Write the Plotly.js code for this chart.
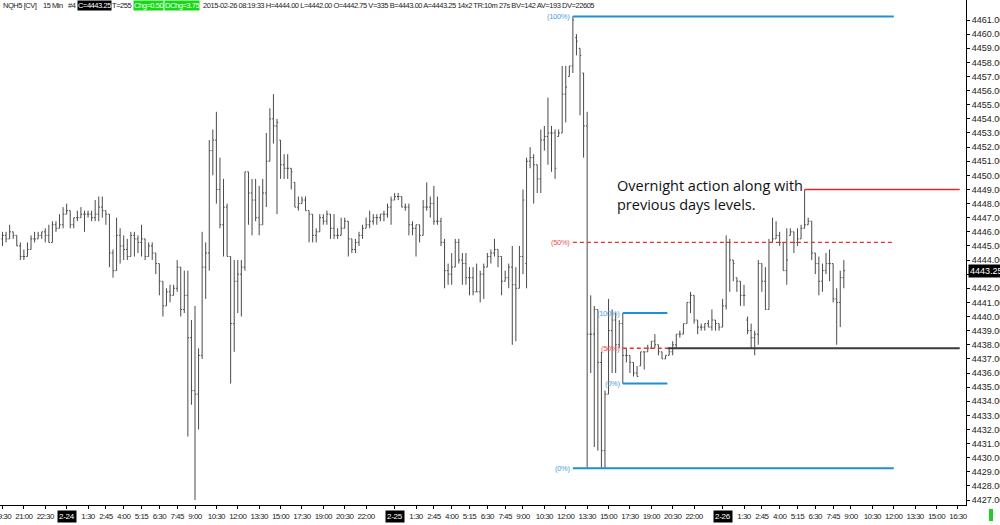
<!DOCTYPE html>
<html>
<head>
<meta charset="utf-8">
<script src="https://cdn.plot.ly/plotly-3.0.1.min.js"></script>
<style>html,body{margin:0;padding:0;background:#fff;}#chart{width:1000px;height:525px;}</style>
</head>
<body>
<div id="chart"></div>
<script>
// ---------- DATA (15-min bars, NQH5) ----------
const opens = [
4445.5,4445.75,4445.5,4446.0,4445.75,4445.0,4444.25,4444.25,4444.75,4445.5,
4445.5,4445.75,4446.0,4445.75,4445.25,4446.5,4446.25,4446.5,4447.25,4447.5,
4446.5,4447.0,4447.0,4447.25,4447.25,4447.25,4447.0,4447.25,4447.75,4447.5,
4447.25,4444.5,4443.25,4445.75,4445.0,4444.75,4444.25,4445.75,4445.5,4445.25,
4445.5,4444.25,4445.0,4444.5,4443.75,4442.5,4440.75,4441.75,4441.5,4442.0,
4443.5,4440.5,4441.5,4438.5,4434.75,4434.5,4437.25,4443.5,4444.5,4451.75,
4452.5,4449.0,4446.5,4447.75,4444.25,4439.5,4442.5,4443.0,4443.5,4450.25,
4448.75,4448.25,4447.0,4446.5,4448.75,4451.0,4454.0,4453.5,4452.5,4450.75,
4450.5,4450.5,4449.5,4447.75,4448.0,4448.25,4447.5,4447.25,4445.75,4446.0,
4447.0,4446.75,4447.25,4446.25,4445.75,4445.75,4446.25,4446.75,4445.5,4444.75,
4445.25,4445.75,4446.25,4446.5,4446.75,4447.0,4447.0,4447.25,4447.25,4447.75,
4448.25,4448.5,4448.5,4447.75,4447.75,4446.5,4446.25,4446.5,4445.75,4447.75,
4447.75,4448.0,4446.75,4446.75,4445.25,4443.25,4443.0,4443.5,4445.25,4444.0,
4443.75,4442.75,4442.75,4441.75,4441.75,4443.0,4443.5,4444.25,4444.5,4444.75,
4444.25,4442.5,4442.75,4443.5,4442.25,4442.0,4444.25,4443.75,4451.0,4451.25,
4450.75,4449.75,4452.5,4452.75,4453.0,4453.0,4452.75,4453.0,4455.75,4457.0,
4457.75,4459.75,4459.0,4457.25,4453.5,4438.75,4438.75,4440.5,4436.75,4430.5,
4434.5,4439.0,4439.75,4438.0,4439.5,4437.25,4437.25,4436.75,4436.0,4436.5,
4437.5,4437.5,4437.75,4438.25,4438.0,4437.5,4437.0,4437.25,4437.5,4438.0,
4438.75,4438.75,4439.5,4441.0,4441.5,4439.75,4439.25,4439.25,4439.5,4439.25,
4439.75,4439.5,4439.25,4440.75,4445.25,4444.0,4442.75,4442.5,4441.5,4439.75,
4439.0,4438.5,4438.75,4443.75,4442.5,4440.5,4445.25,4445.5,4445.75,4445.25,
4443.25,4445.75,4446.0,4445.25,4445.5,4446.25,4446.5,4446.75,4444.5,4443.75,
4442.5,4443.25,4443.75,4443.75,4441.25,4441.0,4442.75];
const highs = [
4446.0,4446.0,4446.5,4446.0,4445.75,4445.25,4444.75,4445.25,4445.75,4446.0,
4446.0,4446.0,4446.25,4446.5,4446.75,4446.75,4447.25,4447.75,4448.0,4447.5,
4447.0,4447.5,4447.75,4447.5,4447.5,4447.5,4448.25,4448.5,4448.5,4447.5,
4447.25,4444.75,4447.0,4446.25,4445.75,4445.5,4446.0,4446.0,4445.75,4446.5,
4445.5,4445.25,4445.25,4444.5,4443.75,4442.5,4442.0,4442.25,4442.25,4444.0,
4443.5,4443.25,4443.25,4439.75,4440.75,4437.75,4446.0,4445.25,4452.5,4453.25,
4454.5,4451.25,4449.75,4448.0,4444.25,4444.0,4444.0,4444.0,4450.25,4450.25,
4449.75,4449.75,4449.25,4449.75,4453.0,4454.75,4455.75,4454.0,4452.5,4451.5,
4451.5,4450.5,4449.5,4448.5,4448.5,4448.5,4447.5,4447.25,4446.25,4447.25,
4447.25,4447.5,4447.25,4447.25,4446.25,4447.0,4447.0,4446.75,4445.5,4445.5,
4446.0,4446.5,4447.0,4447.5,4447.25,4447.25,4447.25,4447.5,4448.0,4448.5,
4448.75,4448.75,4448.5,4448.0,4448.0,4446.75,4446.5,4446.5,4448.25,4449.5,
4448.5,4449.25,4448.5,4447.0,4445.5,4443.75,4444.5,4445.5,4445.5,4444.5,
4444.5,4443.5,4443.5,4443.75,4443.25,4443.75,4444.5,4444.75,4445.5,4444.75,
4444.25,4443.25,4443.75,4445.0,4443.5,4445.0,4449.0,4451.25,4452.0,4451.5,
4450.75,4453.25,4453.5,4455.5,4453.5,4453.25,4453.25,4457.75,4457.75,4457.75,
4461.25,4460.0,4459.0,4457.25,4454.5,4441.5,4440.75,4440.5,4437.5,4434.75,
4441.25,4440.5,4440.25,4439.75,4440.25,4437.75,4437.25,4436.75,4436.5,4437.5,
4437.5,4438.0,4438.25,4438.75,4438.0,4437.5,4437.25,4437.75,4438.25,4438.75,
4439.0,4439.5,4441.0,4441.75,4441.5,4439.75,4439.5,4439.5,4439.75,4440.5,
4439.75,4439.5,4441.25,4445.75,4445.5,4444.0,4442.75,4442.5,4442.25,4440.0,
4439.5,4439.0,4444.0,4443.75,4443.5,4445.5,4447.0,4446.75,4446.0,4445.25,
4446.25,4446.25,4446.0,4446.25,4446.5,4449.0,4447.0,4446.75,4444.5,4444.25,
4443.75,4444.5,4444.75,4443.75,4442.0,4443.25,4444.0];
const lows = [
4445.0,4445.25,4445.5,4445.5,4445.0,4444.0,4444.0,4444.25,4444.75,4445.25,
4445.5,4445.5,4445.25,4445.25,4445.25,4446.0,4446.25,4446.25,4447.25,4446.25,
4446.25,4446.75,4447.0,4446.0,4447.0,4446.75,4446.75,4446.75,4447.0,4446.5,
4443.5,4442.75,4443.25,4443.75,4444.0,4444.0,4444.25,4444.25,4444.5,4444.25,
4444.0,4444.25,4444.0,4443.0,4441.5,4440.0,4440.75,4441.0,4441.5,4441.75,
4440.0,4440.25,4431.5,4433.75,4427.0,4432.0,4437.0,4441.25,4443.25,4450.0,
4448.0,4446.25,4444.25,4444.25,4435.25,4437.5,4440.25,4440.0,4443.25,4446.5,
4445.75,4446.75,4445.75,4446.5,4447.75,4451.0,4452.25,4447.25,4449.75,4449.75,
4449.75,4449.0,4447.75,4447.5,4448.0,4447.5,4445.25,4445.25,4445.25,4446.0,
4446.5,4446.5,4445.5,4445.5,4445.5,4445.75,4446.25,4444.25,4444.5,4444.5,
4445.0,4445.5,4446.25,4446.25,4446.5,4446.5,4446.75,4446.75,4447.0,4446.5,
4448.25,4448.25,4447.75,4447.5,4445.75,4445.75,4444.25,4445.25,4445.75,4447.5,
4447.0,4446.5,4446.5,4445.0,4442.0,4442.25,4442.25,4443.5,4443.75,4442.25,
4442.25,4441.5,4441.5,4441.75,4441.0,4441.25,4443.5,4443.75,4444.25,4443.5,
4441.5,4442.5,4442.0,4438.0,4438.25,4442.0,4443.0,4442.0,4450.5,4448.0,
4448.75,4448.75,4451.75,4450.75,4450.25,4449.75,4452.75,4453.0,4453.75,4457.0,
4457.25,4458.5,4454.25,4451.25,4429.25,4436.0,4430.75,4430.5,4429.25,4429.25,
4434.5,4436.0,4436.0,4437.75,4435.25,4436.75,4436.0,4435.75,4435.75,4436.5,
4436.25,4437.5,4437.75,4437.75,4437.25,4437.0,4437.0,4437.25,4437.25,4437.75,
4438.5,4438.75,4439.5,4440.25,4439.5,4438.75,4439.0,4439.0,4439.25,4439.0,
4439.0,4439.0,4439.25,4440.5,4441.75,4442.5,4441.75,4440.75,4440.75,4438.75,
4437.75,4437.25,4438.0,4441.75,4440.5,4440.5,4445.25,4445.5,4445.0,4443.25,
4442.25,4445.75,4444.5,4445.0,4445.5,4446.25,4446.5,4444.0,4443.0,4441.5,
4441.75,4443.0,4442.5,4441.0,4438.0,4439.25,4442.0];
const closes = [
4445.75,4445.5,4446.0,4445.75,4445.0,4444.25,4444.25,4444.75,4445.5,4445.5,
4445.75,4446.0,4445.75,4445.25,4446.5,4446.25,4446.5,4447.25,4447.5,4446.5,
4447.0,4447.0,4447.25,4447.25,4447.25,4447.0,4447.25,4447.75,4447.5,4447.25,
4444.5,4443.25,4445.75,4445.0,4444.75,4444.25,4445.75,4445.5,4445.25,4445.5,
4444.25,4445.0,4444.5,4443.75,4442.5,4440.75,4441.75,4441.5,4442.0,4443.5,
4440.5,4441.5,4438.5,4434.75,4434.5,4437.25,4443.5,4444.5,4451.75,4452.5,
4449.0,4446.5,4447.75,4444.25,4439.5,4442.5,4443.0,4443.5,4450.25,4448.75,
4448.25,4447.0,4446.5,4448.75,4451.0,4454.0,4453.5,4453.75,4450.75,4450.5,
4450.5,4450.25,4447.75,4448.0,4448.25,4447.5,4447.25,4445.75,4446.0,4447.0,
4446.75,4447.25,4446.25,4445.75,4445.75,4446.25,4446.75,4445.5,4444.75,4445.25,
4445.75,4446.25,4446.5,4446.75,4447.0,4447.0,4447.25,4447.25,4447.75,4448.25,
4448.5,4448.5,4447.75,4447.75,4446.5,4446.25,4446.5,4445.75,4447.75,4447.75,
4448.0,4446.75,4446.75,4445.25,4443.25,4443.0,4443.5,4445.25,4444.0,4443.75,
4442.75,4442.75,4441.75,4441.75,4443.0,4443.5,4444.25,4444.5,4444.75,4444.25,
4442.5,4442.75,4443.5,4442.25,4442.0,4444.25,4448.25,4451.0,4451.25,4450.75,
4449.75,4452.5,4452.75,4453.0,4453.0,4450.5,4453.0,4455.75,4456.25,4457.75,
4461.0,4459.5,4458.5,4453.5,4438.75,4438.75,4440.5,4436.75,4430.5,4434.5,
4439.0,4439.75,4438.0,4439.5,4437.25,4437.25,4436.75,4436.0,4435.75,4437.5,
4437.5,4437.75,4438.25,4438.0,4437.5,4437.0,4437.25,4437.5,4438.0,4438.75,
4438.75,4439.5,4441.0,4441.5,4439.75,4439.25,4439.25,4439.5,4439.25,4439.75,
4439.5,4439.25,4440.75,4445.25,4444.0,4443.75,4442.5,4441.5,4441.5,4439.0,
4438.5,4438.75,4443.75,4442.5,4440.5,4445.25,4445.5,4445.75,4445.25,4443.25,
4444.0,4446.0,4445.25,4445.5,4446.25,4446.5,4446.75,4444.5,4443.75,4442.5,
4443.25,4443.75,4443.75,4441.25,4441.0,4442.75,4443.25];

// x-axis ticks: bar index and label
const tickIdx = [0,6,12,18,24,29,34,39,44,49,54,60,66,72,78,84,90,96,102,
  110,116,121,126,131,136,141,146,152,158,164,170,176,182,188,194,
  202,208,213,218,223,228,233,238,244,250,256,262,268];
const tickLabels = ['19:30','21:00','22:30','2-24','1:30','2:45','4:00','5:15','6:30','7:45','9:00','10:30','12:00','13:30','15:00','17:30','19:00','20:30','22:00',
  '2-25','1:30','2:45','4:00','5:15','6:30','7:45','9:00','10:30','12:00','13:30','15:00','17:30','19:00','20:30','22:00',
  '2-26','1:30','2:45','4:00','5:15','6:30','7:45','9:00','10:30','12:00','13:30','15:00','16:30'];

// drawn levels
const bigFibLevels = [4461.25, 4445.25, 4429.25];      // 100%, 50%, 0%
const bigFibNames  = ['(100%)', '(50%)', '(0%)'];
const bigFibSpan   = [160, 250];
const smallFibLevels = [4440.25, 4437.75, 4435.25];
const smallFibNames  = ['(100%)', '(50%)', '(0%)'];
const smallFibSpan   = [174, 186.5];
const prevLevel = 4437.75;   const prevSpan = [186.5, 268.5];
const highLevel = 4449.0;    const highSpan = [225, 268.5];
const lastPrice = 4443.25;

const headerParts = ['NQH5 [CV]', '15 Min', '#4', 'C=4443.25', 'T=255', 'Chg=0.50', 'DChg=3.75',
  '2015-02-26 08:19:33 H=4444.00 L=4442.00 O=4442.75 V=335 B=4443.00 A=4443.25 14x2 TR:10m 27s BV=142 AV=193 DV=22605'];
const noteText = 'Overnight action along with<br>previous days levels.';

// ---------- BUILD ----------
const xIdx = closes.map((_, i) => i);
const PW = 966, PH = 505;  // plot area in px
const px = v => v / PW;
const py = v => (PH - v) / PH;
const tight = (t, ls) => '<span style="letter-spacing:' + ls + 'px">' + t + '</span>';

const smallFont = 'Liberation Sans, Arial, sans-serif';

const trace = {
  type: 'ohlc', x: xIdx, open: opens, high: highs, low: lows, close: closes,
  increasing: {line: {color: '#4a4a4a', width: 1}},
  decreasing: {line: {color: '#4a4a4a', width: 1}},
  tickwidth: 0.35, hoverinfo: 'skip'
};

const shapes = [];
const annotations = [];
const blue = '#1f8fd6', red = '#e8332c';
function addFib(levels, names, span) {
  levels.forEach((lv, k) => {
    const isMid = k === 1;
    shapes.push({type: 'line', xref: 'x', yref: 'y', x0: span[0], x1: span[1], y0: lv, y1: lv,
      line: {color: isMid ? red : blue, width: isMid ? 1.4 : 2, dash: isMid ? '4px,3px' : 'solid'}});
    annotations.push({xref: 'x', yref: 'y', x: span[0], y: lv, text: tight(names[k], -0.3), showarrow: false,
      xanchor: 'right', yanchor: 'middle', xshift: -1,
      font: {family: smallFont, size: 7.5, color: isMid ? '#e8554d' : '#4aa0dc'}});
  });
}
addFib(bigFibLevels, bigFibNames, bigFibSpan);
addFib(smallFibLevels, smallFibNames, smallFibSpan);
shapes.push({type: 'line', xref: 'x', yref: 'y', x0: prevSpan[0], x1: prevSpan[1], y0: prevLevel, y1: prevLevel,
  line: {color: '#3a3a3a', width: 2}});
shapes.push({type: 'line', xref: 'x', yref: 'y', x0: highSpan[0], x1: highSpan[1], y0: highLevel, y1: highLevel,
  line: {color: '#e02a2a', width: 1.5}});
// green marker bottom-right
shapes.push({type: 'rect', xref: 'paper', yref: 'paper', x0: px(989), x1: px(993), y0: py(521), y1: py(509),
  fillcolor: '#22cc22', line: {width: 0}});

// note
annotations.push({xref: 'paper', yref: 'paper', x: px(615), y: py(174), xanchor: 'left', yanchor: 'top',
  text: noteText, showarrow: false, align: 'left',
  font: {family: 'Open Sans, Noto Sans, sans-serif', size: 14.5, color: '#111'}});

// last price tag
annotations.push({xref: 'paper', yref: 'y', x: 1, y: lastPrice, xanchor: 'left', yanchor: 'middle', xshift: 2,
  text: lastPrice.toFixed(2), showarrow: false, bgcolor: '#000', borderpad: 1,
  font: {family: 'Liberation Sans, Arial, sans-serif', size: 9, color: '#fff'}});

// header
const headerX = [2, 42, 67, 77, 111, 133, 164, 202];
const headerBg = [null, null, null, '#000', null, '#14d914', '#14d914', null];
const headerFg = ['#222', '#222', '#222', '#fff', '#222', '#fff', '#fff', '#222'];
headerParts.forEach((t, k) => {
  const a = {xref: 'paper', yref: 'paper', x: px(headerX[k]), y: py(5), xanchor: 'left', yanchor: 'middle',
    text: tight(t, -0.45), showarrow: false, borderpad: 0,
    font: {family: smallFont, size: 7.5, color: headerFg[k]}};
  if (headerBg[k]) a.bgcolor = headerBg[k];
  annotations.push(a);
});

// x tick labels; date labels drawn as boxed annotations
const isDate = t => /^\d-\d\d$/.test(t);
const shownText = tickLabels.map(t => isDate(t) ? '' : tight(t, -0.55));
tickLabels.forEach((t, k) => {
  if (isDate(t)) {
    annotations.push({xref: 'x', yref: 'paper', x: tickIdx[k], y: py(516), xanchor: 'center', yanchor: 'middle',
      text: tight(t, -0.3), showarrow: false, bgcolor: '#000', borderpad: 1,
      font: {family: smallFont, size: 8, color: '#fff'}});
  }
});

// y ticks every point (label hidden under the price tag)
const yVals = [], yText = [];
for (let v = 4427; v <= 4461; v++) { yVals.push(v); yText.push(v === 4443 ? '' : v.toFixed(2)); }

const layout = {
  width: 1000, height: 525,
  margin: {l: 0, r: 34, t: 0, b: 20, pad: 0},
  paper_bgcolor: '#ffffff', plot_bgcolor: '#ffffff',
  showlegend: false, dragmode: false,
  xaxis: {range: [-0.7, 270.27], tickmode: 'array', tickvals: tickIdx, ticktext: shownText,
    showgrid: false, zeroline: false, showline: true, linecolor: '#000', linewidth: 1,
    ticks: 'outside', ticklen: 3, tickcolor: '#000', tickangle: 0, ticklabeloverflow: 'allow',
    tickfont: {family: smallFont, size: 8, color: '#222'},
    rangeslider: {visible: false}, fixedrange: true},
  yaxis: {side: 'right', range: [4426.65, 4462.42], tickmode: 'array', tickvals: yVals, ticktext: yText,
    showgrid: false, zeroline: false, showline: true, linecolor: '#000', linewidth: 1,
    ticks: 'outside', ticklen: 3, tickcolor: '#000', ticklabeloverflow: 'allow',
    tickfont: {family: 'Liberation Sans, Arial, sans-serif', size: 9, color: '#222'}, fixedrange: true},
  shapes: shapes, annotations: annotations
};

Plotly.newPlot('chart', [trace], layout, {staticPlot: true, displayModeBar: false});
</script>
</body>
</html>
